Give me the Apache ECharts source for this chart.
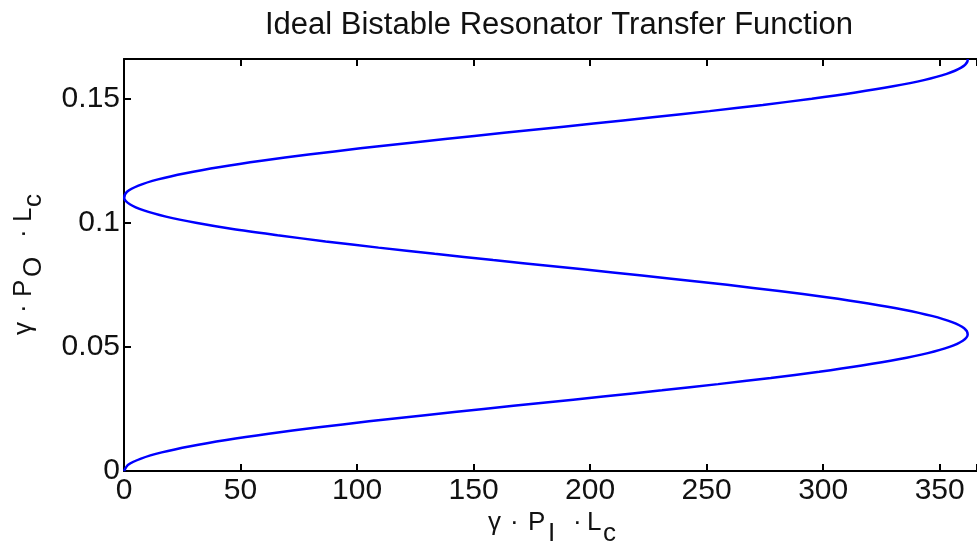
<!DOCTYPE html>
<html>
<head>
<meta charset="utf-8">
<script src="https://cdn.jsdelivr.net/npm/echarts@6/dist/echarts.min.js"></script>
<style>
html,body{margin:0;padding:0;background:#fff;}
#chart{width:977px;height:546px;}
</style>
</head>
<body>
<div id="chart"></div>
<script>
// gamma * P_O * L_c (vertical axis values)
const outputPower = [
  0, 0.0025, 0.005, 0.0075, 0.01, 0.0125, 0.015, 0.0175, 0.02, 0.0225,
  0.025, 0.0275, 0.03, 0.0325, 0.035, 0.0375, 0.04, 0.0425, 0.045, 0.0475,
  0.05, 0.0525, 0.055, 0.0575, 0.06, 0.0625, 0.065, 0.0675, 0.07, 0.0725,
  0.075, 0.0775, 0.08, 0.0825, 0.085, 0.0875, 0.09, 0.0925, 0.095, 0.0975,
  0.1, 0.1025, 0.105, 0.1075, 0.11, 0.1125, 0.115, 0.1175, 0.12, 0.1225,
  0.125, 0.1275, 0.13, 0.1325, 0.135, 0.1375, 0.14, 0.1425, 0.145, 0.1475,
  0.15, 0.1525, 0.155, 0.1575, 0.16, 0.1625, 0.165, 0.166
];
// gamma * P_I * L_c (horizontal axis values)
const inputPower = [
  0, 1.8, 7.3, 16.2, 28.5, 43.9, 62.1, 82.6, 105.1, 129.2,
  154.3, 179.9, 205.6, 230.8, 254.9, 277.5, 298.3, 316.6, 332.3, 344.9,
  354.2, 359.9, 362.0, 360.5, 355.3, 346.6, 334.6, 319.4, 301.5, 281.1,
  258.8, 234.8, 209.7, 184.1, 158.4, 133.3, 109.2, 86.5, 65.9, 46.6,
  30.8, 18.0, 8.5, 2.5, 0.1, 1.3, 6.2, 14.6, 26.4, 41.3,
  59.0, 79.2, 101.4, 125.3, 150.3, 175.8, 201.5, 226.8, 251.2, 274.1,
  295.1, 313.9, 330.0, 343.2, 353.0, 359.2, 361.9, 362.0
];
const xTicks = [0, 50, 100, 150, 200, 250, 300, 350];
const yTicks = [0, 0.05, 0.1, 0.15];
const titleText = 'Ideal Bistable Resonator Transfer Function';
// axis-name pieces: [text, isSubscript]
const xNameParts = [['γ', 0], ['·', 0], ['P', 0], ['I', 1], ['·', 0], ['L', 0], ['c', 1]];
const yNameParts = [['γ', 0], ['·', 0], ['P', 0], ['O', 1], ['·', 0], ['L', 0], ['c', 1]];

const FONT = '"Liberation Sans", Arial, Helvetica, sans-serif';
const seriesData = inputPower.map((x, i) => [x, outputPower[i]]);

function isTick(list, v) {
  return list.some(t => Math.abs(t - v) < 1e-9);
}

// layout of the name pieces (offsets along the text direction)
const xNameOffsets = [0, 22, 40, 60, 85, 99, 115];
const yNameOffsets = [0, 22, 38, 58, 97, 113, 128];
const NAME_FS = 26;

function nameChildren(parts, offsets, baseMid, subShift) {
  return parts.map((p, i) => ({
    type: 'text',
    x: offsets[i],
    y: baseMid + (p[1] ? subShift : 0),
    style: {
      text: p[0],
      fontSize: NAME_FS,
      fontFamily: FONT,
      fill: '#111',
      align: 'left',
      verticalAlign: 'middle'
    }
  }));
}

const chart = echarts.init(document.getElementById('chart'), null, { renderer: 'canvas' });
chart.setOption({
  backgroundColor: '#ffffff',
  animation: false,
  title: {
    text: titleText,
    left: 554,
    textAlign: 'center',
    top: 5,
    textStyle: { fontSize: 31, fontWeight: 'normal', fontFamily: FONT, color: '#111' }
  },
  grid: { left: 124, top: 59, right: 0, bottom: 75, containLabel: false, outerBoundsMode: 'none' },
  xAxis: [
    {
      type: 'value', min: 0, max: 366, interval: 50, position: 'bottom',
      splitLine: { show: false },
      axisLine: { show: true, onZero: false, lineStyle: { color: '#000', width: 2 } },
      axisTick: { show: true, inside: true, length: 7, lineStyle: { color: '#000', width: 2 } },
      axisLabel: {
        margin: 5, fontSize: 30, fontFamily: FONT, color: '#111',
        formatter: v => isTick(xTicks, v) ? String(v) : ''
      }
    },
    {
      type: 'value', min: 0, max: 366, interval: 50, position: 'top',
      splitLine: { show: false },
      axisLine: { show: true, onZero: false, lineStyle: { color: '#000', width: 2 } },
      axisTick: { show: true, inside: true, length: 7, lineStyle: { color: '#000', width: 2 } },
      axisLabel: { show: false }
    }
  ],
  yAxis: {
    type: 'value', min: 0, max: 0.166, interval: 0.05,
    splitLine: { show: false },
    axisLine: { show: true, onZero: false, lineStyle: { color: '#000', width: 2 } },
    axisTick: { show: true, inside: true, length: 7, lineStyle: { color: '#000', width: 2 } },
    axisLabel: {
      margin: 4, fontSize: 30, fontFamily: FONT, color: '#111',
      formatter: v => isTick(yTicks, v) ? String(+v.toFixed(2)) : ''
    }
  },
  graphic: [
    {
      type: 'group',
      x: 488, y: 0,
      children: nameChildren(xNameParts, xNameOffsets, 523, 11)
    },
    {
      type: 'group',
      x: 0, y: 335,
      rotation: Math.PI / 2,
      children: nameChildren(yNameParts, yNameOffsets, 24, 10)
    }
  ],
  series: [{
    type: 'line',
    xAxisIndex: 0,
    data: seriesData,
    showSymbol: false,
    smooth: 0.3,
    lineStyle: { color: '#0000ff', width: 2.5 },
    clip: true
  }]
});
</script>
</body>
</html>
